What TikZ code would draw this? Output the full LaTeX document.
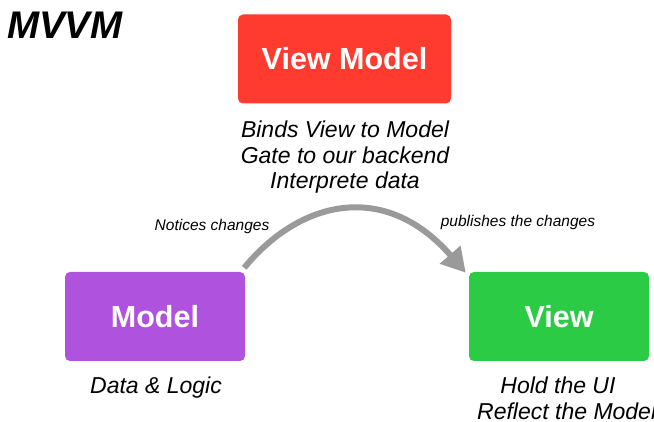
\documentclass[tikz,border=0pt]{standalone}
\usepackage{fontspec}
\setmainfont{Liberation Sans}
\usetikzlibrary{arrows.meta}
\definecolor{vmred}{HTML}{FF3B30}
\definecolor{mpurple}{HTML}{AF52DE}
\definecolor{vgreen}{HTML}{2BCB45}
\definecolor{arrowgray}{HTML}{9A9A9A}
\tikzset{
  box/.style={rounded corners=5pt, inner sep=0pt, minimum width=#1, minimum height=89pt,
    text=white, font=\fontsize{30.5}{34}\selectfont\bfseries},
  desc/.style={font=\fontsize{23}{26}\selectfont\itshape, align=center, inner sep=0pt, anchor=base},
  lbl/.style={font=\fontsize{15.5}{18}\selectfont\itshape, inner sep=0pt, anchor=base},
  flow/.style={draw=arrowgray, line width=6pt, -{Triangle[length=24pt,width=26pt]}}
}
\begin{document}
\begin{tikzpicture}[x=1pt,y=-1pt]
\useasboundingbox (0,0) rectangle (654,422);
\clip (0,0) rectangle (654,422);
\node[anchor=base west, inner sep=0pt, font=\fontsize{38.5}{40}\selectfont\bfseries\itshape] (title) at (7,39) {MVVM};
\node[box=213pt, fill=vmred] (vm) at (344.5,59) {View Model};
\node[box=180pt, fill=mpurple] (model) at (155,316.5) {Model};
\node[box=180pt, fill=vgreen] (view) at (559,316.5) {View};
\node[desc] (vm1) at (345,138) {Binds View to Model};
\node[desc] (vm2) at (345,164) {Gate to our backend};
\node[desc] (vm3) at (345,189) {Interprete data};
\node[desc] (md) at (156,393) {Data \& Logic};
\node[desc] (vw1) at (558,394) {Hold the UI};
\node[desc, anchor=base west] (vw2) at (477,419) {Reflect the Model};
\node[lbl] (n1) at (212,231) {Notices changes};
\node[lbl] (n2) at (518,227) {publishes the changes};
\draw[flow] ([shift={(-1,-4)}]model.north east) .. controls (300,200) and (385,180) .. ([shift={(-3,1)}]view.north west);
\end{tikzpicture}
\end{document}
